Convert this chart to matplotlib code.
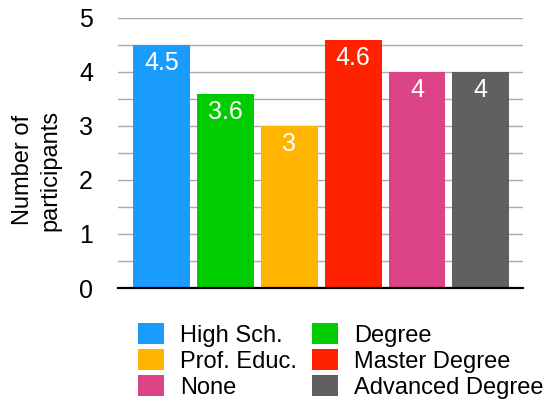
import matplotlib.pyplot as plt
import numpy as np

plt.rcParams["font.family"] = ["Liberation Sans", "DejaVu Sans"]

# 데이터
categories = ["High Sch.", "Degree", "Prof. Educ.", "Master Degree", "None", "Advanced Degree"]
values = [4.5, 3.6, 3, 4.6, 4, 4]
value_labels = ["4.5", "3.6", "3", "4.6", "4", "4"]
colors = ["#1a9cff", "#00cc00", "#ffb400", "#ff2200", "#dd4488", "#606060"]

fig = plt.figure(figsize=(5.5, 4.04), dpi=100)
ax = fig.add_axes([118 / 550, 1 - 288 / 404, (523 - 118) / 550, (288 - 18) / 404])

x = np.arange(len(categories))
bars = ax.bar(x, values, width=0.89, color=colors, zorder=2, label=categories)

# 막대 안쪽 값 표시
for b, lab in zip(bars, value_labels):
    ax.text(b.get_x() + b.get_width() / 2, b.get_height() - 0.12, lab,
            ha="center", va="top", color="white", fontsize=18, zorder=3)

ax.set_xlim(-0.68, 5.66)
ax.set_ylim(0, 5)
ax.set_yticks(range(6))
ax.set_yticks(np.arange(0, 5.01, 0.5), minor=True)
ax.set_xticks([])
ax.tick_params(axis="y", which="both", length=0, pad=18, labelsize=18)
ax.grid(axis="y", which="both", color="#aaaaaa", linewidth=1, zorder=1)
for s in ["top", "right", "left"]:
    ax.spines[s].set_visible(False)
ax.spines["bottom"].set_linewidth(1.6)
ax.spines["bottom"].set_zorder(4)

fig.text(37 / 550, 1 - 170 / 404, "Number of\nparticipants", rotation=90,
         ha="center", va="center", fontsize=17, multialignment="center",
         linespacing=1.3)

# 범례 (행 순서대로 보이도록 열 우선 배열)
order = [0, 2, 4, 1, 3, 5]
handles = [bars[i] for i in order]
labels = [categories[i] for i in order]
fig.legend(handles, labels, ncol=2, loc="upper left",
           bbox_to_anchor=(138 / 550, 1 - 323 / 404), frameon=False,
           fontsize=17, handlelength=1.1, handleheight=1.0,
           handletextpad=0.7, columnspacing=0.6, labelspacing=0.1,
           borderaxespad=0, borderpad=0)

plt.savefig("out.png", dpi=100)
plt.close()
